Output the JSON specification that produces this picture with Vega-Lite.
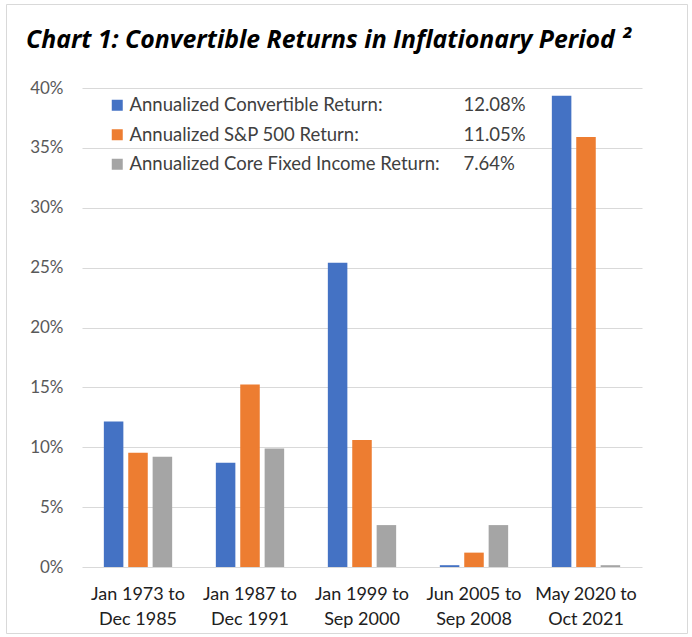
{
  "$schema": "https://vega.github.io/schema/vega-lite/v6.json",
  "autosize": {"type": "none"},
  "padding": {"left": 6, "top": 4, "right": 5, "bottom": 4},
  "width": 681,
  "height": 629,
  "background": "white",
  "title": {
    "text": "Chart 1: Convertible Returns in Inflationary Period ²",
    "anchor": "start",
    "frame": "group",
    "font": "Open Sans",
    "fontSize": 24.8,
    "fontWeight": "bold",
    "fontStyle": "italic",
    "color": "#000000",
    "offset": 0,
    "baseline": "alphabetic",
    "dx": 20,
    "dy": 69
  },
  "data": {
    "values": [
      {"period": "Jan 1973 to Dec 1985", "series": "Annualized Convertible Return:", "value": 12.15, "annual": 12.08},
      {"period": "Jan 1973 to Dec 1985", "series": "Annualized S&P 500 Return:", "value": 9.55, "annual": 11.05},
      {"period": "Jan 1973 to Dec 1985", "series": "Annualized Core Fixed Income Return:", "value": 9.2, "annual": 7.64},
      {"period": "Jan 1987 to Dec 1991", "series": "Annualized Convertible Return:", "value": 8.7, "annual": 12.08},
      {"period": "Jan 1987 to Dec 1991", "series": "Annualized S&P 500 Return:", "value": 15.25, "annual": 11.05},
      {"period": "Jan 1987 to Dec 1991", "series": "Annualized Core Fixed Income Return:", "value": 9.9, "annual": 7.64},
      {"period": "Jan 1999 to Sep 2000", "series": "Annualized Convertible Return:", "value": 25.4, "annual": 12.08},
      {"period": "Jan 1999 to Sep 2000", "series": "Annualized S&P 500 Return:", "value": 10.6, "annual": 11.05},
      {"period": "Jan 1999 to Sep 2000", "series": "Annualized Core Fixed Income Return:", "value": 3.5, "annual": 7.64},
      {"period": "Jun 2005 to Sep 2008", "series": "Annualized Convertible Return:", "value": 0.15, "annual": 12.08},
      {"period": "Jun 2005 to Sep 2008", "series": "Annualized S&P 500 Return:", "value": 1.2, "annual": 11.05},
      {"period": "Jun 2005 to Sep 2008", "series": "Annualized Core Fixed Income Return:", "value": 3.5, "annual": 7.64},
      {"period": "May 2020 to Oct 2021", "series": "Annualized Convertible Return:", "value": 39.35, "annual": 12.08},
      {"period": "May 2020 to Oct 2021", "series": "Annualized S&P 500 Return:", "value": 35.9, "annual": 11.05},
      {"period": "May 2020 to Oct 2021", "series": "Annualized Core Fixed Income Return:", "value": 0.15, "annual": 7.64}
    ]
  },
  "mark": {"type": "bar"},
  "encoding": {
    "x": {
      "field": "period",
      "type": "nominal",
      "sort": null,
      "scale": {"range": [76, 636], "paddingInner": 0.39, "paddingOuter": 0.195},
      "axis": {
        "title": null,
        "offset": -66,
        "domain": false,
        "ticks": false,
        "grid": false,
        "labelAngle": 0,
        "labelPadding": 18,
        "labelFont": "Lato",
        "labelFontSize": 18,
        "labelColor": "#202020",
        "labelLineHeight": 25,
        "labelExpr": "[slice(datum.label, 0, indexof(datum.label, ' to ') + 3), slice(datum.label, indexof(datum.label, ' to ') + 4)]"
      }
    },
    "xOffset": {
      "field": "series",
      "type": "nominal",
      "sort": null,
      "scale": {"paddingInner": 0.2, "paddingOuter": 0}
    },
    "y": {
      "field": "value",
      "type": "quantitative",
      "scale": {"domain": [0, 40], "range": [563, 84], "nice": false},
      "axis": {
        "title": null,
        "values": [0, 5, 10, 15, 20, 25, 30, 35, 40],
        "labelExpr": "datum.value + '%'",
        "offset": -76,
        "domain": false,
        "ticks": false,
        "labelPadding": 19,
        "labelFont": "Lato",
        "labelFontSize": 17,
        "labelColor": "#595959",
        "gridColor": "#d9d9d9",
        "gridWidth": 1
      }
    },
    "color": {
      "field": "series",
      "type": "nominal",
      "sort": null,
      "scale": {
        "domain": ["Annualized Convertible Return:", "Annualized S&P 500 Return:", "Annualized Core Fixed Income Return:"],
        "range": ["#4472C4", "#ED7D31", "#A5A5A5"]
      },
      "legend": {
        "orient": "none",
        "legendX": 102,
        "legendY": 92,
        "title": null,
        "padding": 0,
        "symbolType": "square",
        "symbolSize": 121,
        "symbolStrokeWidth": 0,
        "labelFont": "Lato",
        "labelFontSize": 18.5,
        "labelColor": "#404040",
        "labelOffset": 3,
        "labelLimit": 400,
        "rowPadding": 10.5
      }
    },
    "opacity": {
      "field": "annual",
      "type": "quantitative",
      "scale": {"range": [1, 1]},
      "legend": {
        "orient": "none",
        "legendX": 439,
        "legendY": 92,
        "title": null,
        "padding": 0,
        "values": [12.08, 11.05, 7.64],
        "labelExpr": "(datum.value < 10 ? '\u00a0\u00a0' : '') + format(datum.value, '.2f') + '%'",
        "symbolSize": 0,
        "symbolStrokeWidth": 0,
        "labelOffset": 0,
        "labelFont": "Lato",
        "labelFontSize": 18.5,
        "labelColor": "#404040",
        "rowPadding": 10.5
      }
    }
  },
  "config": {
    "view": {"stroke": "#d9d9d9", "strokeWidth": 1}
  }
}
